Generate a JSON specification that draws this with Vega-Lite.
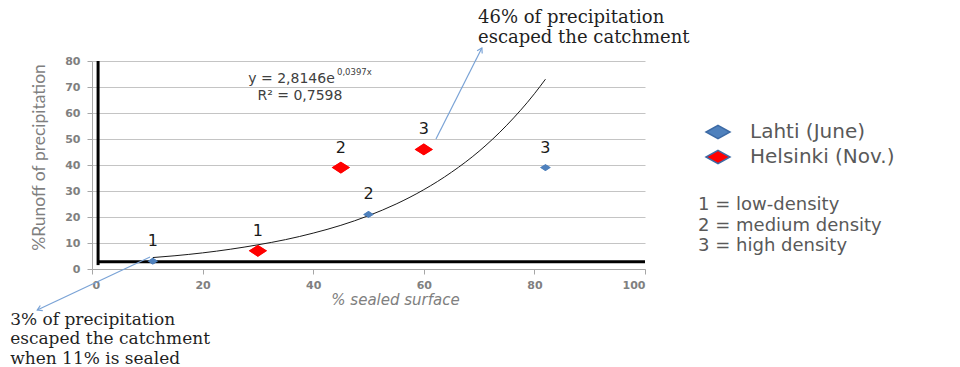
{
  "$schema": "https://vega.github.io/schema/vega-lite/v6.json",
  "width": 553,
  "height": 208,
  "autosize": {"type": "none"},
  "padding": {"left": 92, "top": 61, "right": 315, "bottom": 98},
  "background": "white",
  "config": {"view": {"stroke": null}},
  "data": {"values": [{"note": "annotation"}]},
  "datasets": {
    "points": [
      {"series": "Lahti (June)", "sealed": 11, "runoff": 3, "label": "1"},
      {"series": "Helsinki (Nov.)", "sealed": 30, "runoff": 7, "label": "1"},
      {"series": "Helsinki (Nov.)", "sealed": 45, "runoff": 39, "label": "2"},
      {"series": "Lahti (June)", "sealed": 50, "runoff": 21, "label": "2"},
      {"series": "Helsinki (Nov.)", "sealed": 60, "runoff": 46, "label": "3"},
      {"series": "Lahti (June)", "sealed": 82, "runoff": 39, "label": "3"}
    ],
    "trend": [
      {"sealed": 11, "runoff": 4.4},
      {"sealed": 15, "runoff": 5.1},
      {"sealed": 20, "runoff": 6.2},
      {"sealed": 25, "runoff": 7.6},
      {"sealed": 30, "runoff": 9.3},
      {"sealed": 35, "runoff": 11.3},
      {"sealed": 40, "runoff": 13.8},
      {"sealed": 45, "runoff": 16.8},
      {"sealed": 50, "runoff": 20.5},
      {"sealed": 55, "runoff": 25.0},
      {"sealed": 60, "runoff": 30.5},
      {"sealed": 65, "runoff": 37.2},
      {"sealed": 70, "runoff": 45.3},
      {"sealed": 75, "runoff": 55.3},
      {"sealed": 80, "runoff": 67.4},
      {"sealed": 82, "runoff": 73.0}
    ]
  },
  "layer": [
    {
      "data": {"name": "points"},
      "mark": {"type": "point", "filled": true, "opacity": 1, "strokeWidth": 0, "shape": "M0,-0.65L1,0L0,0.65L-1,0Z"},
      "encoding": {
        "x": {
          "field": "sealed", "type": "quantitative",
          "scale": {"domain": [0, 100], "nice": false, "zero": true},
          "axis": {
            "title": "% sealed  surface", "values": [0, 20, 40, 60, 80, 100], "tickCount": 30, "grid": false, "labelOverlap": false,
            "domainColor": "#a6a6a6", "tickColor": "#a6a6a6", "tickSize": 5,
            "labelFont": "DejaVu Sans", "labelFontWeight": "bold", "labelFontSize": 11, "labelColor": "#808080", "labelPadding": 5,
            "titleFont": "DejaVu Sans", "titleFontStyle": "italic", "titleFontWeight": "normal", "titleFontSize": 15, "titleColor": "#7f7f7f", "titlePadding": 2, "titleX": 303
          }
        },
        "y": {
          "field": "runoff", "type": "quantitative",
          "scale": {"domain": [0, 80], "nice": false},
          "axis": {
            "title": "%Runoff of precipitation", "values": [0, 10, 20, 30, 40, 50, 60, 70, 80], "tickCount": 30, "grid": true, "gridColor": "#c4c4c4", "gridWidth": 1, "labelOverlap": false,
            "domainColor": "#a6a6a6", "tickColor": "#a6a6a6", "tickSize": 5,
            "labelFont": "DejaVu Sans", "labelFontWeight": "bold", "labelFontSize": 11, "labelColor": "#808080", "labelPadding": 7,
            "titleFont": "Lato", "titleFontWeight": "normal", "titleFontSize": 17.5, "titleColor": "#7f7f7f", "titlePadding": 16, "titleY": 96
          }
        },
        "fill": {
          "field": "series", "type": "nominal",
          "scale": {"domain": ["Lahti (June)", "Helsinki (Nov.)"], "range": ["#4f81bd", "#ff0000"]},
          "legend": {
            "orient": "none", "legendX": 613, "legendY": 58, "title": null, "padding": 0,
            "symbolType": "M0,-0.55L1,0L0,0.55L-1,0Z", "symbolSize": 576,
            "symbolStrokeColor": "#3c6aa5", "symbolStrokeWidth": 1.5, "symbolOpacity": 1,
            "labelFont": "DejaVu Sans", "labelFontSize": 20, "labelColor": "#595959", "labelOffset": 19, "rowPadding": 2
          }
        },
        "size": {"condition": {"test": "datum.series === 'Lahti (June)'", "value": 110}, "value": 330}
      }
    },
    {
      "mark": {"type": "rule", "color": "black", "strokeWidth": 3},
      "encoding": {"x": {"datum": 1.1}, "y": {"datum": 1.5}, "y2": {"datum": 80}}
    },
    {
      "mark": {"type": "rule", "color": "black", "strokeWidth": 3},
      "encoding": {"y": {"datum": 2.8}, "x": {"datum": 1.1}, "x2": {"datum": 100}}
    },
    {
      "data": {"name": "trend"},
      "mark": {"type": "line", "color": "#1a1a1a", "strokeWidth": 1, "interpolate": "monotone"},
      "encoding": {
        "x": {"field": "sealed", "type": "quantitative"},
        "y": {"field": "runoff", "type": "quantitative"}
      }
    },
    {
      "data": {"name": "points"},
      "mark": {"type": "point", "filled": true, "opacity": 1, "strokeWidth": 0, "shape": "M0,-0.65L1,0L0,0.65L-1,0Z"},
      "encoding": {
        "x": {"field": "sealed", "type": "quantitative"},
        "y": {"field": "runoff", "type": "quantitative"},
        "fill": {"field": "series", "type": "nominal"},
        "size": {"condition": {"test": "datum.series === 'Lahti (June)'", "value": 110}, "value": 330}
      }
    },
    {
      "data": {"name": "points"},
      "mark": {"type": "text", "dy": -20, "font": "DejaVu Sans", "fontSize": 16, "color": "#1a1a1a"},
      "encoding": {
        "x": {"field": "sealed", "type": "quantitative"},
        "y": {"field": "runoff", "type": "quantitative"},
        "text": {"field": "label"}
      }
    },
    {
      "mark": {"type": "rule", "color": "#7aa3d6", "strokeWidth": 1.2},
      "encoding": {"x": {"datum": 62.2}, "y": {"datum": 50}, "x2": {"datum": 70.5}, "y2": {"datum": 85}}
    },
    {
      "mark": {"type": "point", "filled": false, "stroke": "#7aa3d6", "strokeWidth": 1.2, "opacity": 1, "size": 110, "angle": 28, "shape": "M-0.55,0.9L0,0L0.55,0.9"},
      "encoding": {"x": {"datum": 70.5}, "y": {"datum": 85}}
    },
    {
      "mark": {"type": "rule", "color": "#7aa3d6", "strokeWidth": 1.2},
      "encoding": {"x": {"datum": 10.5}, "y": {"datum": 4.6}, "x2": {"datum": -9.9}, "y2": {"datum": -15.8}}
    },
    {
      "mark": {"type": "point", "filled": false, "stroke": "#7aa3d6", "strokeWidth": 1.2, "opacity": 1, "size": 110, "angle": 245, "shape": "M-0.55,0.9L0,0L0.55,0.9"},
      "encoding": {"x": {"datum": -9.9}, "y": {"datum": -15.8}}
    },
    {
      "mark": {"type": "text", "align": "right", "baseline": "middle", "font": "DejaVu Sans", "fontSize": 14, "color": "#404040", "text": "y = 2,8146e"},
      "encoding": {"x": {"datum": 43.9}, "y": {"datum": 73.1}}
    },
    {
      "mark": {"type": "text", "align": "left", "baseline": "middle", "font": "DejaVu Sans", "fontSize": 8.5, "color": "#404040", "text": "0,0397x"},
      "encoding": {"x": {"datum": 44.3}, "y": {"datum": 75.6}}
    },
    {
      "mark": {"type": "text", "align": "center", "baseline": "middle", "font": "DejaVu Sans", "fontSize": 14, "color": "#404040", "text": "R² = 0,7598"},
      "encoding": {"x": {"datum": 37.6}, "y": {"datum": 66.6}}
    },
    {
      "mark": {"type": "text", "align": "left", "baseline": "top", "font": "DejaVu Serif", "fontSize": 18, "lineHeight": 19.5, "color": "#1f1f1f", "text": ["46% of precipitation", "escaped the catchment"]},
      "encoding": {"x": {"datum": 69.8}, "y": {"datum": 100}}
    },
    {
      "mark": {"type": "text", "align": "left", "baseline": "top", "font": "DejaVu Serif", "fontSize": 17, "lineHeight": 19.5, "color": "#1f1f1f", "text": ["3% of precipitation", "escaped the catchment", "when 11% is sealed"]},
      "encoding": {"x": {"datum": -14.8}, "y": {"datum": -16.4}}
    },
    {
      "mark": {"type": "text", "align": "left", "baseline": "top", "font": "DejaVu Sans", "fontSize": 18, "lineHeight": 20.5, "color": "#595959", "text": ["1 = low-density", "2 = medium density", "3 = high density"]},
      "encoding": {"x": {"datum": 109.6}, "y": {"datum": 28}}
    }
  ]
}
